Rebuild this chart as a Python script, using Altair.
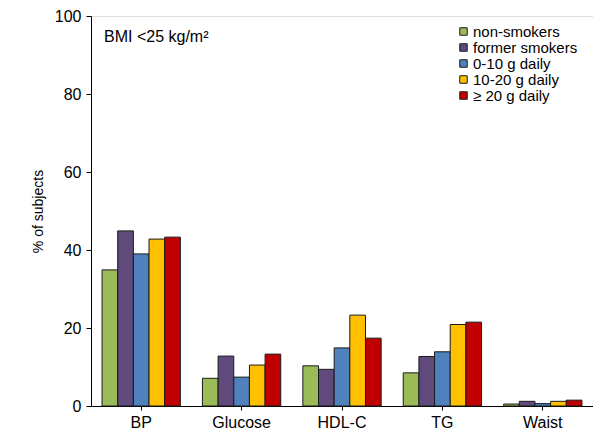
import altair as alt
import pandas as pd

categories = ["BP", "Glucose", "HDL-C", "TG", "Waist"]
groups = ["non-smokers", "former smokers", "0-10 g daily", "10-20 g daily", "\u2265 20 g daily"]
colors = ["#9BBB59", "#604A7B", "#4F81BD", "#FFC000", "#C00000"]
values = {
    "non-smokers":    [34.9, 7.1, 10.3, 8.5, 0.5],
    "former smokers": [44.9, 12.8, 9.4, 12.7, 1.2],
    "0-10 g daily":   [39.0, 7.4, 14.9, 13.9, 0.6],
    "10-20 g daily":  [42.8, 10.5, 23.3, 20.9, 1.2],
    "\u2265 20 g daily": [43.3, 13.3, 17.4, 21.5, 1.5],
}

rows = []
for g in groups:
    for c, v in zip(categories, values[g]):
        rows.append({"cat": c, "group": g, "value": v})
df = pd.DataFrame(rows)

FONT = "Liberation Sans"

bars = alt.Chart(df).mark_bar(stroke="#1a1a1a", strokeWidth=1).encode(
    x=alt.X("cat:N", sort=categories, title=None,
            scale=alt.Scale(paddingInner=0.22, paddingOuter=0.11),
            axis=alt.Axis(labelAngle=0, labelFontSize=16, labelColor="#000", tickSize=4,
                          tickColor="#000", domainColor="#000", labelPadding=4,
                          labelFont=FONT)),
    xOffset=alt.XOffset("group:N", sort=groups),
    y=alt.Y("value:Q", title="% of subjects",
            scale=alt.Scale(domain=[0, 100], nice=False),
            axis=alt.Axis(values=[0, 20, 40, 60, 80, 100], grid=False, tickSize=5,
                          tickColor="#000", domainColor="#000", labelFontSize=16,
                          labelColor="#000", labelPadding=5, titleFontSize=14,
                          titleFontWeight="normal", titleColor="#000", titlePadding=9,
                          labelFont=FONT, titleFont=FONT)),
    color=alt.Color("group:N", sort=groups,
                    scale=alt.Scale(domain=groups, range=colors),
                    legend=alt.Legend(title=None, orient="none", legendX=365, legendY=8,
                                      symbolType="square", symbolSize=56,
                                      symbolStrokeColor="#1a1a1a", symbolStrokeWidth=1,
                                      labelFontSize=15, labelFont=FONT, labelColor="#000",
                                      rowPadding=0, labelOffset=2, padding=0)),
)

note = alt.Chart(pd.DataFrame({"t": ["BMI <25 kg/m\u00b2"]})).mark_text(
    align="left", baseline="middle", fontSize=16, font=FONT, color="#000", dx=2
).encode(
    x=alt.X(datum="BP", bandPosition=0),
    y=alt.datum(94.6),
    text="t:N",
)

chart = alt.layer(bars, note).properties(
    width=502, height=390, padding={"left": 83, "top": 8, "right": 0, "bottom": 23},
    autosize=alt.AutoSizeParams(type="none"),
).configure_view(stroke="#7f7f7f", strokeWidth=1).configure(font=FONT)

chart.save("out.html", embed_options={"renderer": "svg", "actions": False})
